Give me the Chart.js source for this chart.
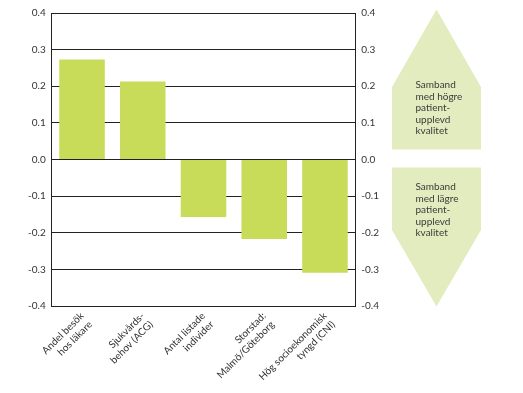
<!DOCTYPE html>
<html><head><meta charset="utf-8">
<script src="https://cdn.jsdelivr.net/npm/chart.js@4/dist/chart.umd.min.js"></script>
<style>html,body{margin:0;padding:0;background:#fff}#wrap{width:523px;height:393px}</style>
</head><body><div id="wrap"><canvas id="c" width="523" height="393"></canvas></div>
<script>
const categories = [
  ["Andel besök", "hos läkare"],
  ["Sjukvårds-", "behov (ACG)"],
  ["Antal listade", "individer"],
  ["Storstad:", "Malmö/Göteborg"],
  ["Hög socioekonomisk", "tyngd (CNI)"]
];
const values = [0.273, 0.213, -0.157, -0.217, -0.309];
const upperArrowText = ["Samband", "med högre", "patient-", "upplevd", "kvalitet"];
const lowerArrowText = ["Samband", "med lägre", "patient-", "upplevd", "kvalitet"];

const FONT = "Lato, 'DejaVu Sans', sans-serif";

const arrowPlugin = {
  id: 'arrows',
  afterDraw(chart) {
    const ctx = chart.ctx;
    const ca = chart.chartArea;
    const L = 392, R = 481, M = (L + R) / 2;
    ctx.save();
    ctx.fillStyle = '#e3ecbf';
    ctx.beginPath();
    ctx.moveTo(M, ca.top - 3.5);
    ctx.lineTo(R, ca.top + 74);
    ctx.lineTo(R, ca.top + 136.5);
    ctx.lineTo(L, ca.top + 136.5);
    ctx.lineTo(L, ca.top + 74);
    ctx.closePath();
    ctx.fill();
    ctx.beginPath();
    ctx.moveTo(L, ca.top + 154.5);
    ctx.lineTo(R, ca.top + 154.5);
    ctx.lineTo(R, ca.top + 217);
    ctx.lineTo(M, ca.bottom + 0.5);
    ctx.lineTo(L, ca.top + 217);
    ctx.closePath();
    ctx.fill();
    ctx.fillStyle = '#3a3a3a';
    ctx.font = '10px ' + FONT;
    ctx.textBaseline = 'alphabetic';
    ctx.textAlign = 'left';
    upperArrowText.forEach((t, i) => ctx.fillText(t, 415.5, ca.top + 75 + i * 11.5));
    lowerArrowText.forEach((t, i) => ctx.fillText(t, 415.5, ca.top + 177 + i * 11.5));
    ctx.restore();
  }
};

new Chart(document.getElementById('c'), {
  type: 'bar',
  data: {
    labels: categories,
    datasets: [{
      data: values,
      backgroundColor: '#c8dc5a',
      borderWidth: 0,
      barPercentage: 0.75,
      categoryPercentage: 1.0
    }]
  },
  options: {
    responsive: false,
    animation: false,
    devicePixelRatio: 1,
    layout: { padding: { top: 13, right: 138, left: 22, bottom: 0 } },
    plugins: { legend: { display: false }, tooltip: { enabled: false } },
    scales: {
      x: {
        grid: { display: false, drawTicks: false },
        border: { display: true, color: '#222', width: 1 },
        ticks: { color: '#333', font: { family: FONT, size: 10 }, maxRotation: 45, minRotation: 45, padding: 4, autoSkip: false },
        afterFit: s => { s.height = 87; }
      },
      y: {
        min: -0.4, max: 0.4,
        position: 'left',
        grid: { color: '#222', lineWidth: 1, drawTicks: false },
        border: { display: true, color: '#222', width: 1 },
        ticks: { stepSize: 0.1, color: '#333', font: { family: FONT, size: 10 }, padding: 6,
          callback: v => v.toFixed(1) }
      },
      y2: {
        min: -0.4, max: 0.4,
        position: 'right',
        grid: { display: false, drawTicks: false },
        border: { display: true, color: '#222', width: 1 },
        ticks: { stepSize: 0.1, color: '#333', font: { family: FONT, size: 10 }, padding: 6,
          callback: v => v.toFixed(1) }
      }
    }
  },
  plugins: [arrowPlugin]
});
</script>
</body></html>
